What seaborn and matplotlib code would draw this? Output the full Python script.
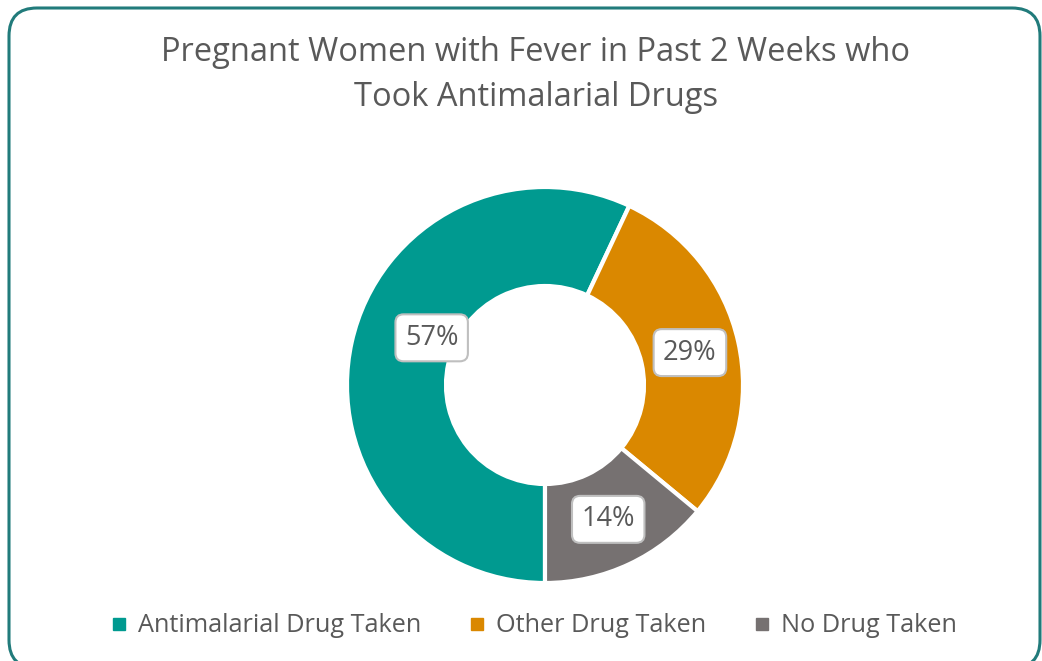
"""
Donut chart: pregnant women with fever who took antimalarial drugs.
"""

import matplotlib
matplotlib.use('Agg')

import matplotlib.pyplot as plt
import numpy as np
import seaborn as sns
from matplotlib.lines import Line2D
from matplotlib.patches import FancyBboxPatch

sns.set_theme(style='white')
plt.rcParams['font.family'] = ['Open Sans', 'DejaVu Sans']

# Dados
categorias = ['Antimalarial Drug Taken', 'Other Drug Taken', 'No Drug Taken']
valores = [57, 29, 14]
rotulos = ['57%', '29%', '14%']
cores = ['#009A90', '#DA8800', '#767171']

TITULO = 'Pregnant Women with Fever in Past 2 Weeks who\nTook Antimalarial Drugs'
COR_TEXTO = '#595959'

W, H = 1042, 661
fig = plt.figure(figsize=(W / 100, H / 100), dpi=100)

# Fundo em pixels com moldura arredondada
bg = fig.add_axes([0, 0, 1, 1], zorder=-1)
bg.set_xlim(0, W)
bg.set_ylim(H, 0)
bg.axis('off')
bg.add_patch(FancyBboxPatch((9, 8), 1031, 660,
                            boxstyle='round,pad=0,rounding_size=28',
                            facecolor='white', edgecolor='#217B7B', linewidth=2.2))

fig.text(0.514, 1 - 75 / H, TITULO, ha='center', va='center', fontsize=23.5,
         color=COR_TEXTO, linespacing=1.45)

# Rosca
cx, cy, r = 545, 385, 198
ax = fig.add_axes([(cx - r) / W, (H - cy - r) / H, 2 * r / W, 2 * r / H])
wedges, _ = ax.pie(valores, colors=cores, startangle=270, counterclock=False,
                   radius=1.0, wedgeprops=dict(width=0.5, edgecolor='white', linewidth=3))
ax.set_xlim(-1, 1)
ax.set_ylim(-1, 1)
ax.set_aspect('equal')
ax.axis('off')

# posição radial de cada rótulo (o primeiro o Excel deslocou)
raios = [0.62, 0.75, 0.75]
angulos_extra = [-10, 0, 0]
for w, txt, rr, da in zip(wedges, rotulos, raios, angulos_extra):
    ang = np.deg2rad((w.theta1 + w.theta2) / 2 + da)
    ax.text(rr * np.cos(ang), rr * np.sin(ang), txt, ha='center', va='center',
            fontsize=19.5, color=COR_TEXTO,
            bbox=dict(boxstyle='round,pad=0.35,rounding_size=0.3', facecolor='white',
                      edgecolor='#BFBFBF', linewidth=1.5))

handles = [Line2D([0], [0], marker='s', linestyle='', markersize=8,
                  markerfacecolor=c, markeredgecolor=c) for c in cores]
fig.legend(handles, categorias, loc='center', bbox_to_anchor=(0.510, 1 - 626 / H),
           ncol=3, frameon=False, fontsize=18.2, labelcolor=COR_TEXTO,
           handletextpad=0.25, columnspacing=1.7, handlelength=1.0)

fig.savefig('out.png', dpi=100)
plt.close(fig)
